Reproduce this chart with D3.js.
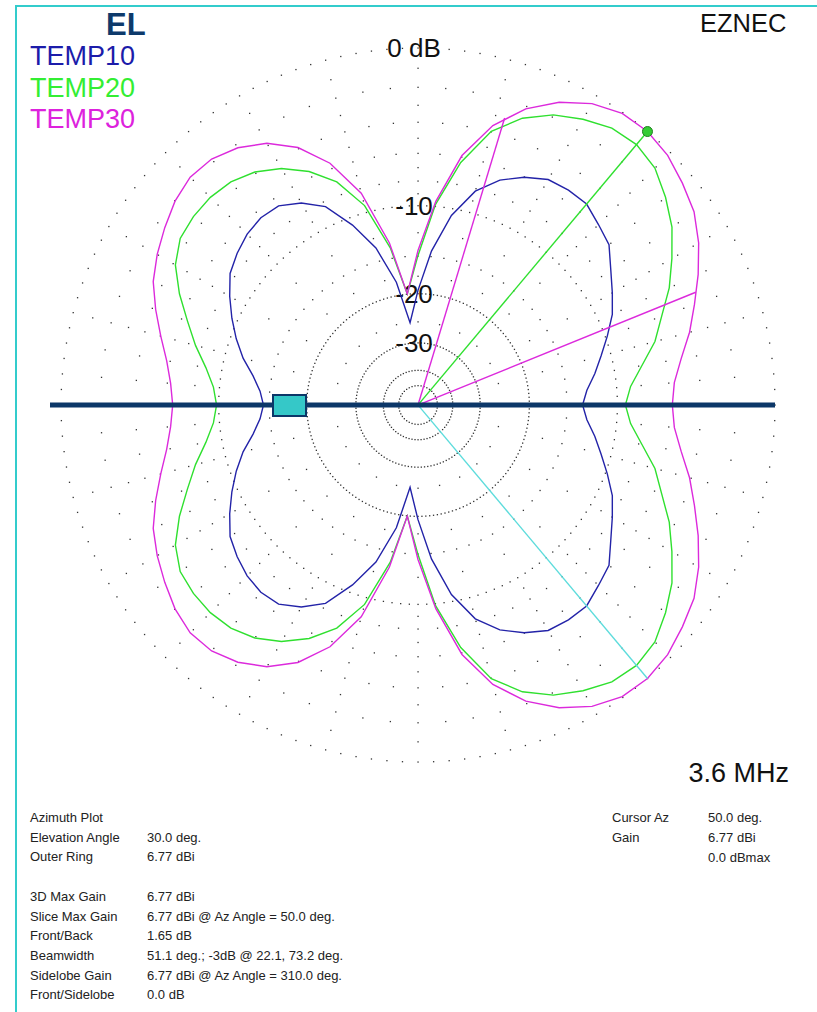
<!DOCTYPE html>
<html>
<head>
<meta charset="utf-8">
<script src="https://cdn.jsdelivr.net/npm/d3@7"></script>
<style>
body { margin: 0; background: #fff; }
svg { display: block; font-family: Arial, "Liberation Sans", sans-serif; }
</style>
</head>
<body>
<svg id="chart" width="817" height="1012"></svg>
<script>
// azimuth in degrees, 0 = right, counter-clockwise
var azimuths = [0,5,10,15,20,25,30,35,40,45,50,55,60,65,70,75,80,85,90,95.5,
  100,105,110,115,120,125,130,135,140,145,150,155,160,165,170,175,180,
  185,190,195,200,205,210,215,220,225,230,235,240,245,250,255,260,264.5,
  270,275,280,285,290,295,300,305,310,315,320,325,330,335,340,345,350,355];

// gain in dB relative to the outer ring (6.77 dBi)
var temp10 = [-13.29,-12.78,-11.80,-10.87,-9.82,-8.75,-7.97,-7.15,-6.16,-5.76,-5.29,-5.29,-5.42,-6.03,-6.86,-8.20,-10.60,-14.37,-19.49,-25.09,
  -18.06,-13.50,-10.69,-8.40,-7.30,-6.60,-6.50,-6.70,-7.10,-7.59,-8.51,-9.49,-10.52,-11.65,-12.99,-13.93,-14.37,
  -13.93,-12.99,-11.65,-10.52,-9.49,-8.51,-7.59,-7.10,-6.70,-6.50,-6.60,-7.30,-8.40,-10.69,-13.50,-18.06,-25.09,
  -19.49,-14.37,-10.60,-8.20,-6.86,-6.03,-5.42,-5.29,-5.29,-5.76,-6.16,-7.15,-7.97,-8.75,-9.82,-10.87,-11.80,-12.78];

var temp20 = [-9.32,-8.83,-7.74,-6.44,-5.49,-4.34,-3.38,-2.42,-1.71,-1.09,-0.84,-0.94,-1.35,-1.87,-2.69,-3.97,-6.37,-9.82,-14.93,-19.95,
  -13.82,-9.40,-7.00,-5.60,-4.60,-3.90,-3.50,-3.35,-3.38,-3.55,-4.16,-5.23,-6.44,-7.52,-8.67,-9.49,-9.82,
  -9.49,-8.67,-7.52,-6.44,-5.23,-4.16,-3.55,-3.38,-3.35,-3.50,-3.90,-4.60,-5.60,-7.00,-9.40,-13.82,-19.95,
  -14.93,-9.82,-6.37,-3.97,-2.69,-1.87,-1.35,-0.94,-0.84,-1.09,-1.71,-2.42,-3.38,-4.34,-5.49,-6.44,-7.74,-8.83];

var temp30 = [-5.82,-5.62,-4.97,-4.10,-3.32,-2.47,-1.66,-0.99,-0.58,-0.19,0.00,-0.05,-0.44,-1.14,-2.14,-3.61,-5.89,-9.57,-14.37,-19.95,
  -13.29,-8.36,-5.62,-3.92,-2.86,-2.20,-1.82,-1.76,-2.03,-2.47,-2.92,-3.44,-4.22,-5.03,-5.76,-6.23,-6.44,
  -6.23,-5.76,-5.03,-4.22,-3.44,-2.92,-2.47,-2.03,-1.76,-1.82,-2.20,-2.86,-3.92,-5.62,-8.36,-13.29,-19.95,
  -14.37,-9.57,-5.89,-3.61,-2.14,-1.14,-0.44,-0.05,0.00,-0.19,-0.58,-0.99,-1.66,-2.47,-3.32,-4.10,-4.97,-5.62];

var seriesNames = ["TEMP10", "TEMP20", "TEMP30"];
var seriesColors = ["#2323a8", "#2fe02f", "#dc2adc"];
var labelColors = ["#1c1caa", "#33ee33", "#dd22dd"];

// ring labels
var ringLabels = ["0 dB", "-10", "-20", "-30"];
var ringLabelDb = [0, -10, -20, -30];

// cursor / beamwidth / sidelobe markers (az, dB)
var cursorAz = 50.0, cursorDb = 0.0;
var bwAz = [22.1, 73.2], bwDb = -3;
var sideAz = 310.0, sideDb = 0.0;

var infoLeft = [
  ["Azimuth Plot", ""],
  ["Elevation Angle", "30.0 deg."],
  ["Outer Ring", "6.77 dBi"],
  ["", ""],
  ["3D Max Gain", "6.77 dBi"],
  ["Slice Max Gain", "6.77 dBi @ Az Angle = 50.0 deg."],
  ["Front/Back", "1.65 dB"],
  ["Beamwidth", "51.1 deg.; -3dB @ 22.1, 73.2 deg."],
  ["Sidelobe Gain", "6.77 dBi @ Az Angle = 310.0 deg."],
  ["Front/Sidelobe", "0.0 dB"]
];
var infoRight = [
  ["Cursor Az", "50.0 deg."],
  ["Gain", "6.77 dBi"],
  ["", "0.0 dBmax"]
];

var svg = d3.select("#chart");
var cx = 418, cy = 405, R = 357;

// ARRL log scale: radius shrinks by 0.89 every 2 dB  ->  r ~ P^0.253
var rScale = d3.scalePow()
  .exponent(Math.log(Math.pow(0.89, 5)) / Math.log(0.1))
  .domain([0, 1])
  .range([0, R]);
function rad(db) { return rScale(Math.pow(10, db / 10)); }
function toRad(az) { return (90 - az) * Math.PI / 180; }

// frame
svg.append("line").attr("x1", 16).attr("y1", 6).attr("x2", 817).attr("y2", 6)
  .attr("stroke", "#33cccc").attr("stroke-width", 2);
svg.append("line").attr("x1", 16).attr("y1", 5).attr("x2", 16).attr("y2", 1012)
  .attr("stroke", "#33cccc").attr("stroke-width", 2);

var g = svg.append("g").attr("transform", "translate(" + cx + "," + cy + ")");

// dotted grid rings
var gridRings = [
  {db: 0, step: 2.5}, {db: -1, step: 15}, {db: -2, step: 5}, {db: -3, step: 15},
  {db: -4, step: 5}, {db: -5, step: 15}, {db: -6, step: 5}, {db: -7, step: 15},
  {db: -8, step: 5}, {db: -9, step: 15}, {db: -10, step: 2.5}, {db: -12.5, step: 15},
  {db: -15, step: 5}, {db: -17.5, step: 15}, {db: -20, step: 2}, {db: -25, step: 15},
  {db: -30, step: 3}, {db: -40, step: 5}, {db: -50, step: 9}
];
var dots = [];
gridRings.forEach(function(ring) {
  for (var a = 0; a < 360; a += ring.step) dots.push({az: a, r: rad(ring.db)});
});
g.append("g").selectAll("rect")
  .data(dots)
  .enter()
  .append("rect")
  .attr("x", function(d) { return d.r * Math.cos(d.az * Math.PI / 180) - 0.6; })
  .attr("y", function(d) { return -d.r * Math.sin(d.az * Math.PI / 180) - 0.6; })
  .attr("width", 1.3)
  .attr("height", 1.3)
  .attr("fill", "#333");

// ring labels
g.selectAll(".ringLabel")
  .data(ringLabels)
  .enter()
  .append("text")
  .attr("class", "ringLabel")
  .attr("x", -4)
  .attr("y", function(d, i) { return -rad(ringLabelDb[i]) + 9; })
  .attr("text-anchor", "middle")
  .attr("font-size", "26px")
  .attr("fill", "#111")
  .text(function(d) { return d; });

// pattern traces
var series = [temp10, temp20, temp30];
var line = d3.lineRadial()
  .angle(function(d) { return toRad(d.az); })
  .radius(function(d) { return rad(d.db); })
  .curve(d3.curveLinearClosed);

series.forEach(function(vals, k) {
  var pts = azimuths.map(function(az, i) { return {az: az, db: vals[i]}; });
  g.append("path")
    .datum(pts)
    .attr("d", line)
    .attr("fill", "none")
    .attr("stroke", seriesColors[k])
    .attr("stroke-width", 1.4);
});

// radial marker lines
var ray = d3.lineRadial()
  .angle(function(d) { return toRad(d.az); })
  .radius(function(d) { return rad(d.db); });

bwAz.forEach(function(az) {
  g.append("path").attr("d", ray([{az: az, db: -99}, {az: az, db: bwDb}]))
    .attr("stroke", seriesColors[2]).attr("stroke-width", 1.4).attr("fill", "none");
});
g.append("path").attr("d", ray([{az: sideAz, db: -99}, {az: sideAz, db: sideDb}]))
  .attr("stroke", "#5ddcdc").attr("stroke-width", 1.4).attr("fill", "none");
g.append("path").attr("d", ray([{az: cursorAz, db: -99}, {az: cursorAz, db: cursorDb}]))
  .attr("stroke", seriesColors[1]).attr("stroke-width", 1.4).attr("fill", "none");

// boom line and element marker
g.append("line").attr("x1", -368).attr("y1", 0).attr("x2", R).attr("y2", 0)
  .attr("stroke", "#0c3768").attr("stroke-width", 5);
g.append("rect").attr("x", -145).attr("y", -10).attr("width", 33).attr("height", 21)
  .attr("fill", "#35c8c8").attr("stroke", "#0c3768").attr("stroke-width", 2);

// cursor dot
g.append("circle")
  .attr("cx", rad(cursorDb) * Math.cos(cursorAz * Math.PI / 180))
  .attr("cy", -rad(cursorDb) * Math.sin(cursorAz * Math.PI / 180))
  .attr("r", 5)
  .attr("fill", "#3c3")
  .attr("stroke", "#1f7f1f")
  .attr("stroke-width", 1);

// titles and legend
svg.append("text").attr("x", 106).attr("y", 35).attr("font-size", "31px")
  .attr("font-weight", "bold").attr("fill", "#0d3a6b").text("EL");
svg.selectAll(".legend")
  .data(seriesNames)
  .enter()
  .append("text")
  .attr("class", "legend")
  .attr("x", 30)
  .attr("y", function(d, i) { return 65 + i * 31.5; })
  .attr("font-size", "27px")
  .attr("fill", function(d, i) { return labelColors[i]; })
  .text(function(d) { return d; });
svg.append("text").attr("x", 700).attr("y", 32).attr("font-size", "25.5px")
  .attr("fill", "#111").text("EZNEC");
svg.append("text").attr("x", 789).attr("y", 782).attr("font-size", "27px")
  .attr("text-anchor", "end").attr("fill", "#111").text("3.6 MHz");

// info block
var info = svg.append("g").attr("font-size", "13px").attr("fill", "#222");
infoLeft.forEach(function(row, i) {
  info.append("text").attr("x", 30).attr("y", 822 + i * 19.7).text(row[0]);
  info.append("text").attr("x", 147).attr("y", 822 + i * 19.7).text(row[1]);
});
infoRight.forEach(function(row, i) {
  info.append("text").attr("x", 612).attr("y", 822 + i * 20).text(row[0]);
  info.append("text").attr("x", 708).attr("y", 822 + i * 20).text(row[1]);
});
</script>
</body>
</html>
